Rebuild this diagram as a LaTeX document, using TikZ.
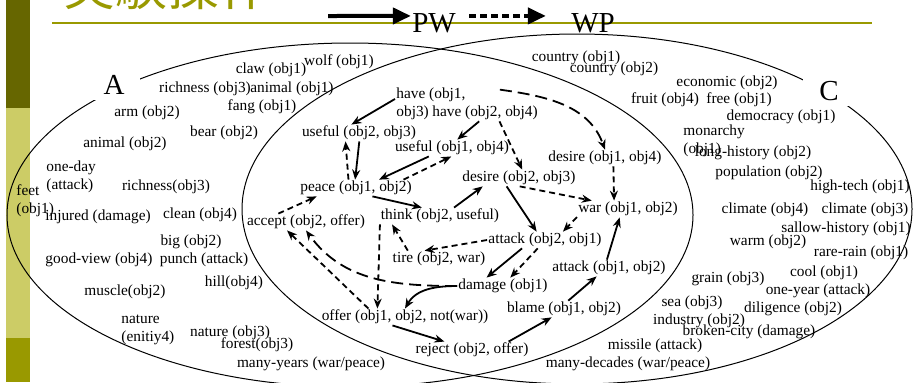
\documentclass[tikz,border=0pt]{standalone}
\usepackage{fontspec}
\setmainfont{Liberation Serif}
\newfontfamily\jpfont{Noto Sans CJK JP}
\usetikzlibrary{arrows.meta,calc}
\definecolor{olivedark}{RGB}{102,102,0}
\definecolor{olivelight}{RGB}{204,204,102}
\definecolor{olivemid}{RGB}{153,153,0}

\begin{document}
\begin{tikzpicture}[x=0.5pt,y=-0.5pt,
 every node/.style={inner sep=0.5pt,font=\fontsize{7.68}{9}\selectfont},
 two/.style={align=left,anchor=west},
 big/.style={font=\fontsize{14.5}{16}\selectfont},
 setlbl/.style={big,fill=white,inner xsep=8pt,inner ysep=2.7pt},
 sarr/.style={line width=0.9pt,-{Stealth[length=5pt,width=4pt]}},
 darr/.style={sarr,dash pattern=on 3pt off 2pt},
 ldarr/.style={sarr,dash pattern=on 6pt off 3pt}]
 \useasboundingbox (0,0) rectangle (913,382);
 % side bar and title
 \fill[olivedark] (6,0) rectangle (30,108);
 \fill[olivelight] (6,108) rectangle (30,338);
 \fill[olivemid] (6,338) rectangle (30,382);
 \node[anchor=base west,inner sep=0pt,text=olivemid,
   font=\jpfont\fontsize{26}{28}\selectfont] (title) at (63,5) {実験操作};
 \draw[olivemid,line width=1pt] (52,23) -- (872,23);
 \node[big] (pw) at (434,23) {PW};
 \node[big] (wp) at (593,23) {WP};
 \coordinate (pwin) at (328,16);
 \draw[line width=2pt,-{Triangle[length=9pt,width=8pt]}] (pwin) -- (pw.163);
 \draw[line width=2pt,dash pattern=on 3.5pt off 2pt,-{Triangle[length=9pt,width=8pt]},
   shorten <=6pt,shorten >=12pt] (pw.17) -- (wp.163);
 % the two sets
 \draw[line width=0.5pt] (350,215) ellipse [x radius=171.5pt,y radius=86pt];
 \draw[line width=0.5pt] (577,209) ellipse [x radius=167.5pt,y radius=87.5pt];
 \node[setlbl] (A) at (114,85) {A};
 \node[setlbl] (C) at (829,91) {C};
 % only in A
 \node (claw) at (271,70) {claw (obj1)};
 \node (wolf) at (339,62) {wolf (obj1)};
 \node (rich3) at (205,89) {richness (obj3)};
 \node (anim1) at (292,89) {animal (obj1)};
 \node (fang) at (262,107) {fang (obj1)};
 \node (arm) at (147,113) {arm (obj2)};
 \node (bear) at (224,133) {bear (obj2)};
 \node (anim2) at (125,144) {animal (obj2)};
 \node (oneday) [two] at (45,177) {one-day\\(attack)};
 \node (rich3b) at (166,187) {richness(obj3)};
 \node (feet) [two] at (15,201) {feet\\(obj1)};
 \node (injured) at (98,217) {injured (damage)};
 \node (clean) at (200,215) {clean (obj4)};
 \node (big) at (191,242) {big (obj2)};
 \node (goodview) at (99,260) {good-view (obj4)};
 \node (punch) at (204,260) {punch (attack)};
 \node (hill) at (234,283) {hill(obj4)};
 \node (muscle) at (125,292) {muscle(obj2)};
 \node (nature4) [two] at (120,330) {nature\\(enitiy4)};
 \node (nature3) at (230,333) {nature (obj3)};
 \node (forest) at (257,345) {forest(obj3)};
 \node (manyy) at (311,364) {many-years (war/peace)};
 % only in C
 \node (cty1) at (576,58) {country (obj1)};
 \node (cty2) at (614,69) {country (obj2)};
 \node (econ) at (727,83) {economic (obj2)};
 \node (fruit) at (665,100) {fruit (obj4)};
 \node (free) at (739,100) {free (obj1)};
 \node (demo) at (781,117) {democracy (obj1)};
 \node (monar) [two] at (682,141) {monarchy\\(obj1)};
 \node (longh) at (753,153) {long-history (obj2)};
 \node (popu) at (769,173) {population (obj2)};
 \node (htech) at (860,187) {high-tech (obj1)};
 \node (clim4) at (765,210) {climate (obj4)};
 \node (clim3) at (865,210) {climate (obj3)};
 \node (sallow) at (846,229) {sallow-history (obj1)};
 \node (warm) at (768,242) {warm (obj2)};
 \node (rrain) at (861,253) {rare-rain (obj1)};
 \node (cool) at (824,273) {cool (obj1)};
 \node (grain) at (728,279) {grain (obj3)};
 \node (oneyr) at (818,291) {one-year (attack)};
 \node (sea) at (692,303) {sea (obj3)};
 \node (dilig) at (793,309) {diligence (obj2)};
 \node (indus) at (699,321) {industry (obj2)};
 \node (broken) at (749,332) {broken-city (damage)};
 \node (missile) at (655,346) {missile (attack)};
 \node (manyd) at (628,364) {many-decades (war/peace)};
 % the plan graph
 \node (h13) [two] at (395,104) {have (obj1,\\obj3)};
 \node (h24) at (485,113) {have (obj2, obj4)};
 \node (u23) at (359,133) {useful (obj2, obj3)};
 \node (u14) at (452,148) {useful (obj1, obj4)};
 \node (d14) at (605,158) {desire (obj1, obj4)};
 \node (pc) at (356,188) {peace (obj1, obj2)};
 \node (d23) at (519,178) {desire (obj2, obj3)};
 \node (th) at (440,216) {think (obj2, useful)};
 \node (war) at (628,209) {war (obj1, obj2)};
 \node (ac) at (306,222) {accept (obj2, offer)};
 \node (a21) at (545,240) {attack (obj2, obj1)};
 \node (tr) at (439,259) {tire (obj2, war)};
 \node (a12) at (609,268) {attack (obj1, obj2)};
 \node (dm) at (503,286) {damage (obj1)};
 \node (bl) at (564,309) {blame (obj1, obj2)};
 \node (of) at (405,317) {offer (obj1, obj2, not(war))};
 \node (rj) at (472,350) {reject (obj2, offer)};
 \foreach \x/\y in {h13.172/u23.132,h24.235/u14.58,u23.-88/pc.96,u14.-160/pc.20,
   pc.-27/th.155,th.31/d23.-167,d23.-146/a21.135,a12.104/war.-135,
   a21.-160/dm.153,of.-146/rj.163,rj.13/bl.-146,bl.63/a12.-146}
   \draw[sarr] (\x) -- (\y);
 \foreach \x/\y in {h24.-30/d23.69,d14.-45/war.149,pc.132/u23.-148,pc.10/u14.-95,
   d23.-85/war.167,war.-171/a21.25,a21.west/tr.150,tr.165/th.-170,
   a21.-131/dm.49,th.-172/of.163,of.167/ac.-156,ac.163/pc.-168}
   \draw[darr] (\x) -- (\y);
 \draw[ldarr] ($(h13.north east)+(33,3)$) to[out=-8,in=110] (d14.north);
 \draw[ldarr] (dm.west) to[out=180,in=-54] (ac.south);
 \draw[sarr] (dm.west) to[out=180,in=60] (of.north);
\end{tikzpicture}
\end{document}
